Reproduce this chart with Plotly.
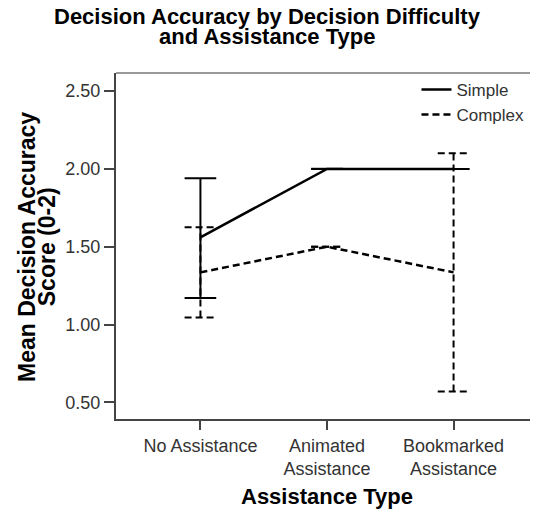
import plotly.graph_objects as go

categories = ["No Assistance", "Animated<br>Assistance", "Bookmarked<br>Assistance"]
simple_mean = [1.56, 2.00, 2.00]
simple_lo = [1.17, 2.00, 2.00]
simple_hi = [1.94, 2.00, 2.00]
complex_mean = [1.335, 1.50, 1.335]
complex_lo = [1.045, 1.50, 0.57]
complex_hi = [1.625, 1.50, 2.10]
y_ticks = [0.5, 1.0, 1.5, 2.0, 2.5]
y_tick_labels = ["0.50", "1.00", "1.50", "2.00", "2.50"]

FONT = "Liberation Sans, Arial, sans-serif"
CAP = 0.125
DASH = "7px,4px"

xs = list(range(len(categories)))


def errbar_path(lo, hi):
    px, py = [], []
    for i, (l, h) in enumerate(zip(lo, hi)):
        px += [i, i, None, i - CAP, i + CAP, None, i - CAP, i + CAP, None]
        py += [l, h, None, h, h, None, l, l, None]
    return px, py


fig = go.Figure()

sx, sy = errbar_path(simple_lo, simple_hi)
cx, cy = errbar_path(complex_lo, complex_hi)

fig.add_trace(go.Scatter(x=cx, y=cy, mode="lines", showlegend=False, hoverinfo="skip",
                         line=dict(color="black", width=2, dash=DASH)))
fig.add_trace(go.Scatter(x=sx, y=sy, mode="lines", showlegend=False, hoverinfo="skip",
                         line=dict(color="black", width=2)))
fig.add_trace(go.Scatter(x=xs, y=simple_mean, mode="lines", name="Simple",
                         line=dict(color="black", width=2.5)))
fig.add_trace(go.Scatter(x=xs, y=complex_mean, mode="lines", name="Complex",
                         line=dict(color="black", width=2.5, dash=DASH)))

fig.update_layout(
    width=530, height=504,
    margin=dict(l=108, r=0, t=65, b=93),
    paper_bgcolor="white", plot_bgcolor="white",
    font=dict(family=FONT, size=18, color="#333333"),
    showlegend=True,
    legend=dict(x=0.712, y=1.003, xanchor="left", yanchor="top",
                bgcolor="rgba(0,0,0,0)", font=dict(size=17, color="#333333"),
                tracegroupgap=0),
    xaxis=dict(range=[-0.667, 2.667], tickmode="array", tickvals=xs, ticktext=categories,
               showgrid=False, zeroline=False, showline=True, linecolor="#444444", linewidth=2,
               ticks="outside", ticklen=9, tickwidth=1.5, tickcolor="#444444",
               ticklabelstandoff=0, tickfont=dict(size=18, color="#333333")),
    yaxis=dict(range=[0.393, 2.616], tickmode="array", tickvals=y_ticks, ticktext=y_tick_labels,
               showgrid=False, zeroline=False, showline=True, linecolor="#444444", linewidth=2,
               ticks="outside", ticklen=10, tickwidth=1.5, tickcolor="#444444",
               tickfont=dict(size=18, color="#333333")),
    shapes=[dict(type="line", xref="paper", yref="paper", x0=0, x1=1, y0=1, y1=1,
                 line=dict(color="#999999", width=2))],
    annotations=[
        dict(text="<b>Decision Accuracy by Decision Difficulty</b>", xref="paper", yref="paper",
             x=0.358, y=1.162, xanchor="center", yanchor="middle", showarrow=False,
             font=dict(size=22, color="black", family=FONT)),
        dict(text="<b>and Assistance Type</b>", xref="paper", yref="paper",
             x=0.358, y=1.106, xanchor="center", yanchor="middle", showarrow=False,
             font=dict(size=22, color="black", family=FONT)),
        dict(text="<b>Assistance Type</b>", xref="paper", yref="paper",
             x=0.499, y=-0.225, xanchor="center", yanchor="middle", showarrow=False,
             font=dict(size=22, color="black", family=FONT)),
        dict(text="<b>Mean Decision Accuracy</b>", xref="paper", yref="paper",
             x=-0.211, y=0.497, xanchor="center", yanchor="middle", showarrow=False,
             textangle=-90, font=dict(size=23, color="black", family=FONT)),
        dict(text="<b>Score (0-2)</b>", xref="paper", yref="paper",
             x=-0.163, y=0.497, xanchor="center", yanchor="middle", showarrow=False,
             textangle=-90, font=dict(size=23, color="black", family=FONT)),
    ],
)

fig.write_html("out.html")
